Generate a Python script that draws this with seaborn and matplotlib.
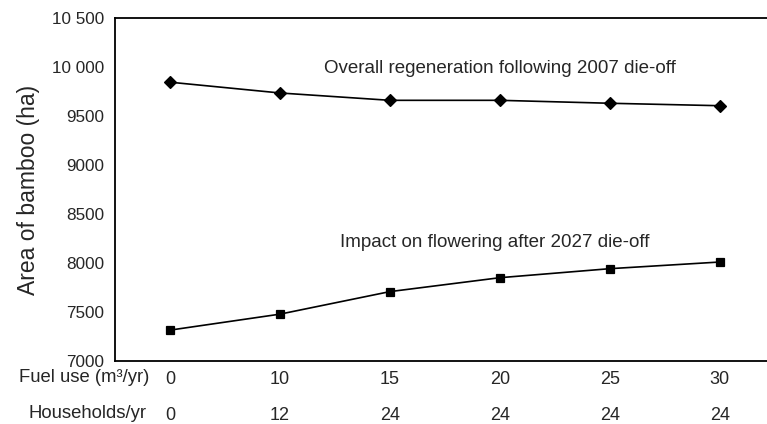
import pandas as pd
import seaborn as sns
import matplotlib.pyplot as plt

# values
fuel_use = [0, 10, 15, 20, 25, 30]
households = [0, 12, 24, 24, 24, 24]
regeneration_2007 = [9845, 9735, 9660, 9660, 9630, 9605]
flowering_2027 = [7315, 7478, 7708, 7850, 7942, 8010]

series_names = ['Overall regeneration following 2007 die-off',
                'Impact on flowering after 2027 die-off']
yticks = [7000, 7500, 8000, 8500, 9000, 9500, 10000, 10500]
ytick_labels = ['7000', '7500', '8000', '8500', '9000', '9500', '10 000', '10 500']

df = pd.DataFrame({
    'fuel': fuel_use * 2,
    'area': regeneration_2007 + flowering_2027,
    'series': [series_names[0]] * 6 + [series_names[1]] * 6,
})

sns.set_style('white')
plt.rcParams['font.family'] = ['Liberation Sans', 'DejaVu Sans']

fig = plt.figure(figsize=(7.67, 4.24), dpi=100)
ax = fig.add_axes([115 / 767, 1 - 361 / 424, 1 - 115 / 767, (361 - 18) / 424])

sns.pointplot(data=df, x='fuel', y='area', hue='series', hue_order=series_names,
              markers=['D', 's'], palette=['black', 'black'], linestyles=['-', '-'],
              markersize=6, linewidth=1.2, errorbar=None, ax=ax, legend=False)

ax.set_xlim(-0.5, 5.43)
ax.set_ylim(7000, 10500)
ax.set_yticks(yticks)
ax.set_yticklabels(ytick_labels, fontsize=12.3)
ax.set_xticks(range(len(fuel_use)))
ax.set_xticklabels([f'{f}\n{h}' for f, h in zip(fuel_use, households)],
                   fontsize=13, linespacing=2.5)
ax.tick_params(axis='y', direction='out', length=6.5, width=1.2, color='black', pad=1)
ax.tick_params(axis='x', length=0, pad=7)
ax.set_xlabel('')
ax.set_ylabel('Area of bamboo (ha)', fontsize=16.5, labelpad=9)

for side in ['left', 'bottom', 'top']:
    ax.spines[side].set_visible(True)
    ax.spines[side].set_color('black')
    ax.spines[side].set_linewidth(1.3)
ax.spines['right'].set_visible(False)

# row labels for the two lines under the x axis
ax.annotate('Fuel use (m\u00b3/yr)', xy=(0, 0), xycoords='axes fraction',
            xytext=(25, -11.8), textcoords='offset points', ha='right', va='center',
            fontsize=13.3, annotation_clip=False)
ax.annotate('Households/yr', xy=(0, 0), xycoords='axes fraction',
            xytext=(22.5, -37.5), textcoords='offset points', ha='right', va='center',
            fontsize=13.3, annotation_clip=False)

# series captions
ax.text(3.0, 9980, series_names[0], ha='center', va='center', fontsize=13.5)
ax.text(2.95, 8207, series_names[1], ha='center', va='center', fontsize=13.5)

fig.savefig('out.png', dpi=100)
